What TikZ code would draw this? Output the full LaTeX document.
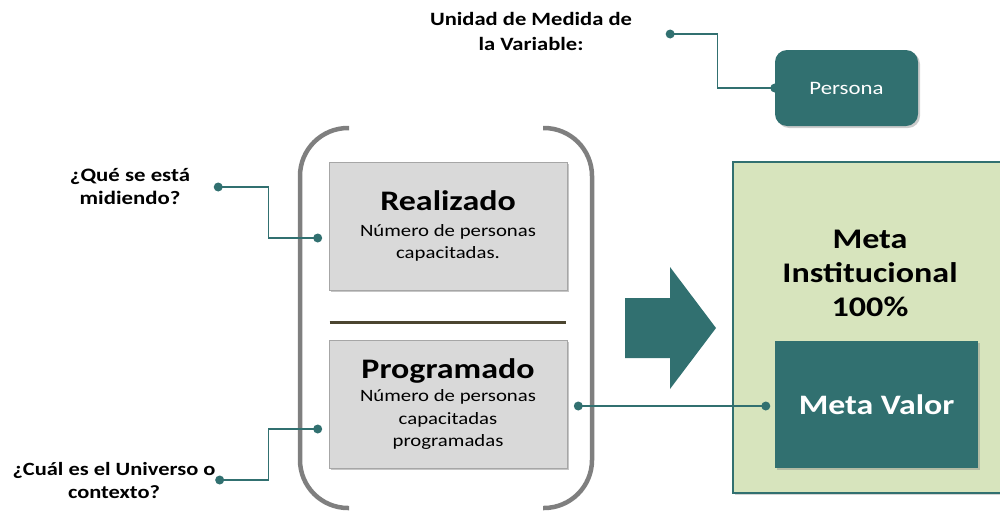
\documentclass[tikz,border=0pt]{standalone}
\usepackage{fontspec}
\setmainfont{Carlito}[FakeStretch=1.2]
\usetikzlibrary{calc,shadows}
\definecolor{teal1}{HTML}{317070}
\definecolor{boxgray}{HTML}{D9D9D9}
\definecolor{brk}{HTML}{7F7F7F}
\definecolor{olive}{HTML}{4B4530}
\definecolor{lgreen}{HTML}{D7E4BD}
\tikzset{
  graybox/.style={draw=gray!70, line width=0.6pt, fill=boxgray, minimum width=238pt, minimum height=128pt, align=center, inner sep=0pt, font=\fontsize{17.3}{22.5}\selectfont, drop shadow={shadow xshift=2pt, shadow yshift=-2pt, opacity=0.45}},
  tealbox/.style={fill=teal1, text=white, inner sep=0pt, drop shadow={shadow xshift=2pt, shadow yshift=-2pt, opacity=0.4}},
  qtext/.style={align=center, font=\bfseries\fontsize{19}{23}\selectfont, inner sep=0pt},
  conn/.style={draw=teal1, line width=1.1pt},
  dotc/.style={fill=teal1},
}
\begin{document}
\begin{tikzpicture}[x=1pt,y=-1pt]
\useasboundingbox (0,0) rectangle (1000,514);
% bracket
\draw[brk, line width=4.5pt, rounded corners=48pt] (349,128) -- (300,128) -- (300,508) -- (349,508);
\draw[brk, line width=4.5pt, rounded corners=48pt] (543,128) -- (592,128) -- (592,508) -- (543,508);
% boxes
\node[graybox] (real) at (448,226) {{\bfseries\fontsize{28.3}{32}\selectfont Realizado}\\[3pt]Número de personas\\capacitadas.};
\node[graybox] (prog) at (448,404) {{\bfseries\fontsize{28.3}{32}\selectfont Programado}\\[1pt]Número de personas\\capacitadas\\programadas};
\draw[olive, line width=3.5pt] ($(real.south west)+(1,32)$) coordinate (sepl) -- ($(real.south east)+(-1,32)$) coordinate (sepr);
% green box
\node[draw=teal1, line width=2.5pt, fill=lgreen, minimum width=280pt, minimum height=331pt, inner sep=0pt, drop shadow={shadow xshift=2pt, shadow yshift=-2pt, opacity=0.35}] (green) at (873,327.5) {};
\node[qtext, font=\bfseries\fontsize{28.4}{34}\selectfont] (gtxt) at (870,273) {Meta\\Institucional\\100\%};
\node[tealbox, minimum width=203pt, minimum height=127pt, font=\bfseries\fontsize{28.2}{32}\selectfont] (mv) at (876.5,404.5) {Meta Valor};
% persona
\node[tealbox, rounded corners=12pt, minimum width=143pt, minimum height=76pt, font=\fontsize{19}{22}\selectfont] (pers) at (846.5,88) {Persona};
% arrow
\fill[teal1] (625,298) -- (670,298) -- (670,267) -- (716,328) -- (670,389) -- (670,358) -- (625,358) -- cycle;
% questions
\node[qtext] (q1) at (130,187) {¿Qué se está\\midiendo?};
\node[qtext, font=\bfseries\fontsize{18.7}{23}\selectfont] (q2) at (114,480) {¿Cuál es el Universo o\\contexto?};
\node[qtext, font=\bfseries\fontsize{18.8}{25}\selectfont] (q3) at (531,31) {Unidad de Medida de\\la Variable:};
% connectors
\coordinate (a1) at ($(q1.east)+(28,0)$);
\coordinate (b1) at ($(real.west)+(-11,12)$);
\draw[conn] (a1) -| ($(b1)+(-49,0)$) -- (b1);
\fill[dotc] (a1) circle (4.5pt) (b1) circle (4.5pt);
\coordinate (a2) at ($(q2.east)+(4,0)$);
\coordinate (b2) at ($(prog.west)+(-11,25)$);
\draw[conn] (a2) -| ($(b2)+(-49,0)$) -- (b2);
\fill[dotc] (a2) circle (4.5pt) (b2) circle (4.5pt);
\coordinate (a3) at ($(q3.east)+(38,3)$);
\coordinate (b3) at (pers.west);
\draw[conn] (a3) -| ($(b3)+(-57,0)$) -- (b3);
\fill[dotc] (a3) circle (4.5pt) (b3) circle (4.5pt);
\coordinate (a4) at ($(prog.east)+(11,2)$);
\coordinate (b4) at ($(mv.west)+(-9,1.5)$);
\draw[conn] (a4) -- (b4);
\fill[dotc] (a4) circle (4.5pt) (b4) circle (4.5pt);
\end{tikzpicture}
\end{document}
